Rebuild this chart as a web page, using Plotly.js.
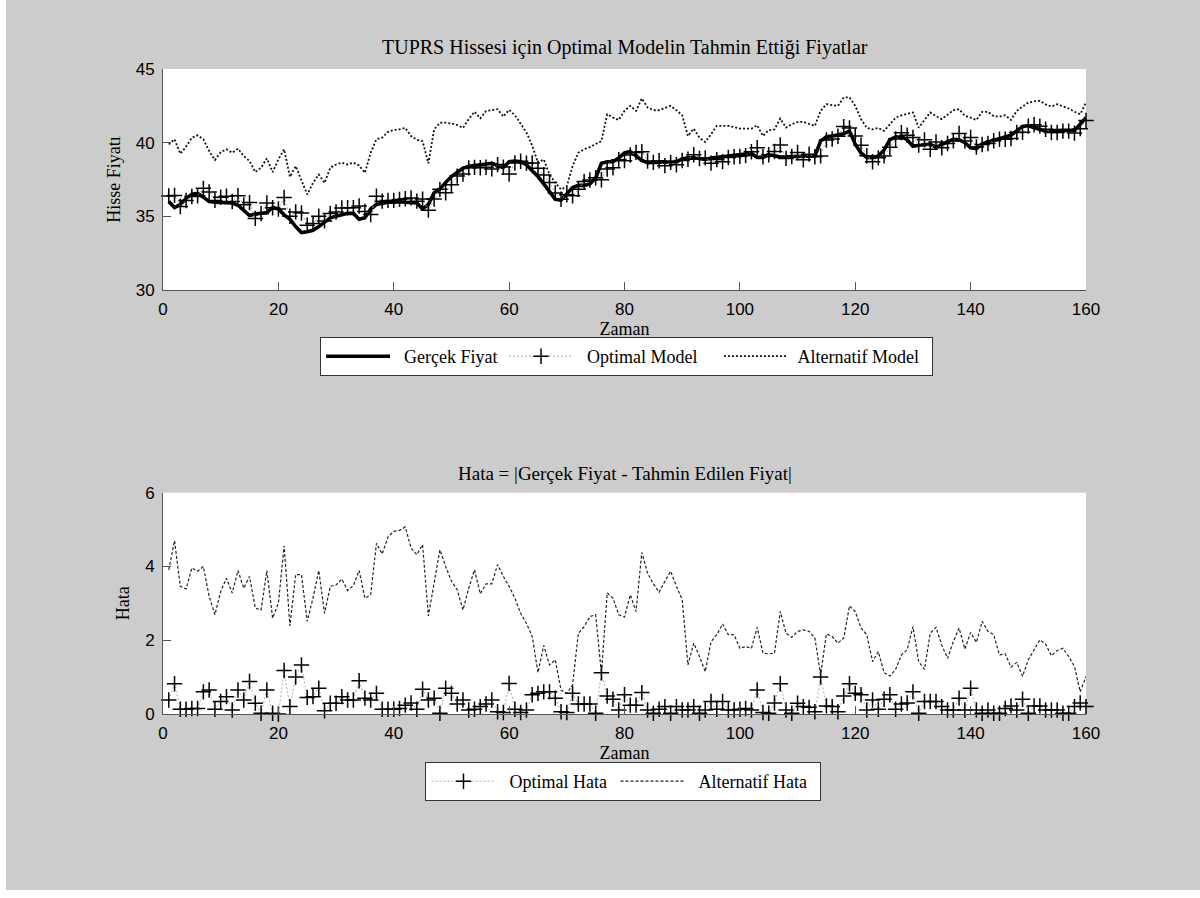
<!DOCTYPE html>
<html>
<head>
<meta charset="utf-8">
<script src="https://cdn.plot.ly/plotly-3.0.1.min.js"></script>
<style>
html,body{margin:0;padding:0;background:#ffffff;width:1200px;height:898px;overflow:hidden;}
#chart{position:absolute;left:6px;top:0px;width:1194px;height:890px;}
</style>
</head>
<body>
<div id="chart"></div>
<script>
// ---- data ----
const zaman = [1,2,3,4,5,6,7,8,9,10,11,12,13,14,15,16,17,18,19,20,
21,22,23,24,25,26,27,28,29,30,31,32,33,34,35,36,37,38,39,40,
41,42,43,44,45,46,47,48,49,50,51,52,53,54,55,56,57,58,59,60,
61,62,63,64,65,66,67,68,69,70,71,72,73,74,75,76,77,78,79,80,
81,82,83,84,85,86,87,88,89,90,91,92,93,94,95,96,97,98,99,100,
101,102,103,104,105,106,107,108,109,110,111,112,113,114,115,116,117,118,119,120,
121,122,123,124,125,126,127,128,129,130,131,132,133,134,135,136,137,138,139,140,
141,142,143,144,145,146,147,148,149,150,151,152,153,154,155,156,157,158,159,160];

const gercekFiyat = [36.0,35.6,35.8,36.2,36.5,36.55,36.3,36.0,35.95,35.95,
35.9,35.9,35.75,35.4,35.05,35.15,35.2,35.25,35.6,35.5,
35.1,34.8,34.3,33.9,33.95,34.05,34.3,34.6,34.9,35.0,
35.1,35.2,35.2,34.8,34.9,35.5,35.8,35.9,35.95,35.95,
36.0,35.95,35.95,35.9,35.5,35.8,36.6,36.85,37.3,37.7,
38.0,38.25,38.4,38.45,38.5,38.6,38.6,38.45,38.3,38.7,
38.75,38.7,38.5,38.1,37.7,37.2,36.7,36.15,36.1,36.5,
36.95,37.1,37.1,37.2,37.6,38.6,38.7,38.7,38.95,39.3,
39.4,39.1,38.8,38.64,38.64,38.64,38.64,38.64,38.7,38.9,
38.98,38.98,38.9,38.86,38.95,38.98,39.05,39.1,39.15,39.2,
39.27,39.27,39.0,39.0,39.2,39.1,39.02,39.04,39.04,39.04,
39.04,39.04,39.1,40.1,40.4,40.45,40.5,40.6,40.8,39.9,
39.3,39.0,38.98,39.1,39.5,40.2,40.38,40.41,40.2,39.75,
39.82,39.85,39.89,39.7,39.85,40.05,40.23,40.2,40.0,39.65,
39.6,39.9,40.05,40.15,40.25,40.38,40.5,40.8,41.1,41.14,
41.0,40.9,40.8,40.8,40.8,40.8,40.8,40.85,41.25,41.7];

const optimalModel = [36.38,36.42,35.67,36.07,36.35,36.40,36.90,36.65,36.08,36.29,
36.37,36.01,36.40,35.78,35.93,34.86,35.18,35.90,35.58,35.5,
36.28,35.0,35.3,35.23,34.40,34.52,35.0,34.69,35.19,35.29,
35.57,35.58,35.58,35.7,35.33,35.12,36.36,36.03,36.08,36.08,
36.15,36.19,36.25,36.03,36.17,35.42,36.17,36.83,36.6,37.14,
37.73,37.87,38.29,38.32,38.3,38.33,38.22,38.51,38.34,37.87,
38.62,38.74,38.61,38.62,38.26,37.8,37.3,36.58,36.16,36.46,
36.39,36.83,37.37,37.47,37.62,37.48,38.21,38.3,38.84,38.78,
39.16,39.34,39.38,38.75,38.66,38.77,38.44,38.66,38.5,38.79,
38.87,39.18,38.92,38.97,38.61,38.85,38.71,38.99,39.04,39.07,
39.12,39.38,39.65,39.04,39.18,39.4,39.84,38.93,39.06,39.33,
38.84,39.22,39.04,39.1,40.18,40.25,40.44,41.09,41.0,40.46,
39.82,39.11,38.7,38.97,39.1,39.68,40.25,40.68,40.5,40.35,
39.84,40.19,39.55,40.04,39.65,39.94,40.12,40.63,40.11,40.35,
39.71,39.88,39.94,40.13,40.23,40.23,40.28,40.69,40.7,41.12,
41.22,41.12,40.91,40.69,40.69,40.78,40.78,40.65,40.95,41.5];

const alternatifModel = [39.88,40.23,39.25,39.73,40.34,40.5,40.23,39.43,38.82,39.36,
39.55,39.32,39.59,39.09,38.75,38.0,38.3,38.93,38.0,38.86,
39.55,37.68,38.41,37.5,36.48,37.27,37.84,37.27,38.3,38.52,
38.64,38.52,38.64,38.45,37.95,39.32,40.23,40.34,40.73,40.86,
40.9,41.0,40.45,40.2,40.1,38.6,40.9,41.35,41.36,41.3,
41.2,41.0,41.6,42.1,41.65,42.15,42.2,42.27,41.77,42.23,
41.86,41.3,40.7,39.8,38.64,38.86,37.84,37.27,36.82,37.04,
38.41,39.32,39.55,39.7,39.89,40.11,41.93,41.7,41.54,42.16,
42.5,42.16,43.0,42.39,42.2,42.2,42.35,42.5,42.2,41.86,
40.45,40.95,40.34,40.04,40.57,41.14,41.14,41.14,41.05,40.95,
40.95,40.95,41.18,40.45,40.85,40.9,41.64,41.02,41.25,41.4,
41.41,41.25,41.14,42.16,42.61,42.55,42.5,43.07,43.07,42.5,
41.6,41.0,40.9,41.0,40.8,41.25,41.7,41.85,41.95,42.05,
41.02,41.5,42.05,41.8,41.6,41.9,42.2,42.27,41.82,41.7,
41.54,42.09,42.09,41.8,41.77,41.86,41.54,42.16,42.45,42.73,
42.8,42.84,42.6,42.45,42.61,42.45,42.32,42.1,41.93,42.73];

const optimalHata = [0.38,0.82,0.13,0.13,0.15,0.15,0.6,0.65,0.13,0.34,
0.47,0.11,0.65,0.38,0.88,0.29,0.02,0.65,0.02,0.0,
1.18,0.2,1.0,1.33,0.45,0.47,0.7,0.09,0.29,0.29,
0.47,0.38,0.38,0.9,0.43,0.38,0.56,0.13,0.13,0.13,
0.15,0.24,0.3,0.13,0.67,0.38,0.43,0.02,0.7,0.56,
0.27,0.38,0.11,0.13,0.2,0.27,0.38,0.06,0.04,0.83,
0.13,0.04,0.11,0.52,0.56,0.6,0.6,0.43,0.06,0.04,
0.56,0.27,0.27,0.27,0.02,1.12,0.49,0.4,0.11,0.52,
0.24,0.24,0.58,0.11,0.02,0.13,0.2,0.02,0.2,0.11,
0.11,0.2,0.02,0.11,0.34,0.13,0.34,0.11,0.11,0.13,
0.15,0.11,0.65,0.04,0.02,0.3,0.82,0.11,0.02,0.29,
0.2,0.18,0.06,1.0,0.22,0.2,0.06,0.49,0.82,0.56,
0.52,0.11,0.38,0.13,0.4,0.52,0.13,0.27,0.3,0.6,
0.02,0.34,0.34,0.34,0.2,0.11,0.11,0.43,0.11,0.7,
0.11,0.02,0.11,0.02,0.02,0.15,0.22,0.11,0.4,0.02,
0.22,0.22,0.11,0.11,0.11,0.02,0.02,0.2,0.3,0.2];

const alternatifHata = [3.91,4.7,3.46,3.39,3.96,3.87,4.0,3.19,2.69,3.32,
3.68,3.28,3.89,3.41,3.73,2.87,2.82,3.89,2.6,3.0,
4.56,2.39,3.78,3.78,2.51,3.14,3.89,2.73,3.46,3.5,
3.66,3.35,3.48,3.89,3.14,3.23,4.63,4.34,4.8,4.95,
4.98,5.07,4.5,4.32,4.59,2.66,3.55,4.45,4.0,3.6,
3.37,2.82,3.41,3.91,3.26,3.53,3.53,4.05,3.73,3.46,
3.14,2.73,2.46,2.1,1.12,1.86,1.33,1.47,0.65,0.56,
0.79,2.19,2.37,2.64,2.69,1.1,3.28,3.14,2.69,2.63,
3.23,2.78,4.38,3.82,3.53,3.3,3.6,3.87,3.46,3.1,
1.33,1.92,1.56,1.15,1.96,2.15,2.44,2.15,2.15,1.78,
1.83,1.78,2.35,1.65,1.63,1.65,2.78,2.19,2.08,2.24,
2.28,2.24,2.06,1.06,2.17,2.1,1.92,2.06,2.93,2.78,
2.33,2.15,1.42,1.69,1.12,1.03,1.21,1.6,1.74,2.37,
1.42,1.21,2.19,2.35,1.87,1.51,1.96,2.33,1.76,2.21,
1.94,2.51,2.24,2.15,1.6,1.63,1.27,1.4,1.02,1.47,
1.74,2.01,1.9,1.58,1.72,1.78,1.56,1.29,0.6,1.02];

const xTicks = [0,20,40,60,80,100,120,140,160];
const yTicksTop = [30,35,40,45];
const yTicksBottom = [0,2,4,6];

const names = {
  gercek: 'Gerçek Fiyat', optimal: 'Optimal Model', alternatif: 'Alternatif Model',
  optHata: 'Optimal Hata', altHata: 'Alternatif Hata'
};
const texts = {
  title1: 'TUPRS Hissesi için Optimal Modelin Tahmin Ettiği Fiyatlar',
  title2: 'Hata = |Gerçek Fiyat - Tahmin Edilen Fiyat|',
  xTitle: 'Zaman', yTitle1: 'Hisse Fiyatı', yTitle2: 'Hata'
};

// ---- styling ----
const SERIF = 'Liberation Serif, Times New Roman, serif';
const SANS = 'Liberation Sans, Arial, Helvetica, sans-serif';
const AXC = '#555555';
const GAP2 = '\u00A0\u00A0';
const GAP1 = '\u00A0';

function xAxis(anchor){
  return {
    anchor: anchor, domain:[0,1], range:[0,160], tickvals:xTicks,
    ticks:'inside', ticklen:8, tickwidth:1, tickcolor:AXC,
    showline:true, linecolor:AXC, linewidth:1, mirror:false,
    showgrid:false, zeroline:false, fixedrange:true,
    ticklabelstandoff:4,
    tickfont:{family:SANS, size:17, color:'#000'},
    title:{text:texts.xTitle, font:{family:SERIF, size:18, color:'#000'}, standoff:2}
  };
}
function yAxis(anchor, domain, range, ticks, title){
  return {
    anchor: anchor, domain:domain, range:range, tickvals:ticks,
    ticks:'inside', ticklen:8, tickwidth:1, tickcolor:AXC,
    showline:true, linecolor:AXC, linewidth:1, mirror:false,
    showgrid:false, zeroline:false, fixedrange:true,
    ticklabelstandoff:4,
    tickfont:{family:SANS, size:17, color:'#000'},
    title:{text:title, font:{family:SERIF, size:18, color:'#000'}, standoff:10}
  };
}

const traces = [
  {x:zaman, y:gercekFiyat, name:GAP2 + names.gercek, type:'scatter', mode:'lines',
   line:{color:'#000', width:3.6}, xaxis:'x', yaxis:'y', legend:'legend', legendwidth:104},
  {x:zaman, y:optimalModel, name:GAP2 + names.optimal, type:'scatter', mode:'lines+markers',
   line:{color:'#a8a8a8', width:1, dash:'2px,2px'},
   marker:{symbol:'cross-thin-open', size:11, color:'#000', line:{color:'#000', width:1.5}},
   cliponaxis:false, xaxis:'x', yaxis:'y', legend:'legend', legendwidth:136},
  {x:zaman, y:alternatifModel, name:GAP1 + names.alternatif, type:'scatter', mode:'lines',
   line:{color:'#111', width:1.8, dash:'2px,2px'}, xaxis:'x', yaxis:'y', legend:'legend', legendwidth:134},
  {x:zaman, y:optimalHata, name:GAP2 + names.optHata, type:'scatter', mode:'lines+markers',
   line:{color:'#b0b0b0', width:1, dash:'2px,2px'},
   marker:{symbol:'cross-thin-open', size:11, color:'#000', line:{color:'#000', width:1.5}},
   cliponaxis:false, xaxis:'x2', yaxis:'y2', legend:'legend2', legendwidth:110},
  {x:zaman, y:alternatifHata, name:GAP2 + names.altHata, type:'scatter', mode:'lines',
   line:{color:'#222', width:1.2, dash:'3px,2px'}, xaxis:'x2', yaxis:'y2', legend:'legend2', legendwidth:126}
];

const legendBase = {
  orientation:'h', xref:'paper', yref:'paper', xanchor:'center', yanchor:'top',
  bgcolor:'#ffffff', bordercolor:'#333', borderwidth:1,
  font:{family:SERIF, size:18, color:'#000'}, itemwidth:64, itemclick:false, itemdoubleclick:false,
  tracegroupgap:0
};

const layout = {
  width:1194, height:890,
  paper_bgcolor:'#cccccc', plot_bgcolor:'#ffffff',
  margin:{l:157, r:114, t:69, b:176, pad:0, autoexpand:false},
  showlegend:true, hovermode:false,
  xaxis: xAxis('y'),
  yaxis: yAxis('x', [0.6574,1], [30,45], yTicksTop, texts.yTitle1),
  xaxis2: xAxis('y2'),
  yaxis2: yAxis('x2', [0,0.3431], [0,6], yTicksBottom, texts.yTitle2),
  legend: Object.assign({}, legendBase, {x:0.5022, y:0.5845}),
  legend2: Object.assign({}, legendBase, {x:0.4989, y:-0.0744}),
  annotations:[
    {xref:'paper', yref:'paper', x:0.5, y:1.0341, xanchor:'center', yanchor:'middle',
     text:texts.title1, showarrow:false, font:{family:SERIF, size:20, color:'#000'}},
    {xref:'paper', yref:'paper', x:0.5, y:0.3721, xanchor:'center', yanchor:'middle',
     text:texts.title2, showarrow:false, font:{family:SERIF, size:19, color:'#000'}}
  ]
};

Plotly.newPlot('chart', traces, layout, {displayModeBar:false, staticPlot:true});
</script>
</body>
</html>
